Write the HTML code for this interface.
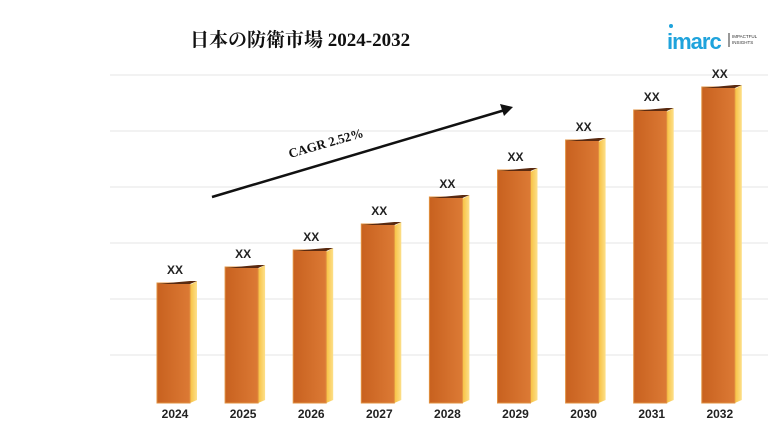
<!DOCTYPE html>
<html><head><meta charset="utf-8"><style>
body{margin:0;background:#fff;width:768px;height:432px;overflow:hidden}
</style></head><body>
<svg width="768" height="432" xmlns="http://www.w3.org/2000/svg" font-family="Liberation Sans, sans-serif">
<defs>
<linearGradient id="f" x1="0" x2="1"><stop offset="0" stop-color="#c8611f"/><stop offset="1" stop-color="#dc7a35"/></linearGradient>
<linearGradient id="s" x1="0" x2="1"><stop offset="0" stop-color="#f7c040"/><stop offset="1" stop-color="#fde08a"/></linearGradient>
</defs>
<text x="190" y="46" font-family="Liberation Serif, Noto Serif CJK SC, serif" font-size="19" font-weight="bold" fill="#111">日本の防衛市場 2024-2032</text>
<g stroke="#e6e6e6" stroke-width="1">
<line x1="110" y1="75" x2="768" y2="75"/><line x1="110" y1="131" x2="768" y2="131"/><line x1="110" y1="187" x2="768" y2="187"/><line x1="110" y1="243" x2="768" y2="243"/><line x1="110" y1="299" x2="768" y2="299"/><line x1="110" y1="355" x2="768" y2="355"/>
</g>
<circle cx="671" cy="26" r="2" fill="#1fa3dc"/>
<text x="667" y="49" font-size="22" fill="#1fa3dc" font-weight="bold" letter-spacing="-1">imarc</text>
<line x1="729" y1="33" x2="729" y2="47" stroke="#333"/>
<text x="732" y="38" font-size="4.5" fill="#333">IMPACTFUL</text>
<text x="732" y="44" font-size="4.5" fill="#333">INSIGHTS</text>
<line x1="212" y1="197" x2="505" y2="110" stroke="#111" stroke-width="2.5"/>
<polygon points="513,107 500,104 504,116" fill="#111"/>
<text x="290" y="158" font-family="Liberation Serif, serif" font-size="13" font-weight="bold" fill="#111" transform="rotate(-16 290 158)">CAGR 2.52%</text>
<g id="bars"></g>
</svg>
<script>
var tops=[283,267,250,224,197,170,140,110,87],g=document.getElementById('bars'),h='';
for(var i=0;i<9;i++){var x=157+i*68.1,t=tops[i],b=403,w=33;
h+='<polygon points="'+(x+w)+','+(t+2)+' '+(x+w+7)+','+(t-2)+' '+(x+w+7)+','+(b-3)+' '+(x+w)+','+b+'" fill="url(#s)"/>';
h+='<rect x="'+x+'" y="'+t+'" width="'+w+'" height="'+(b-t)+'" fill="url(#f)" stroke="#e09040" stroke-width="1"/>';
h+='<polygon points="'+x+','+(t+1)+' '+(x+w)+','+(t-2)+' '+(x+w+7)+','+(t-2)+' '+(x+w)+','+(t+1)+'" fill="#5a2a10"/>';
h+='<text x="'+(x+18)+'" y="'+(t-9)+'" font-size="12" font-weight="bold" text-anchor="middle" fill="#222">XX</text>';
h+='<text x="'+(x+18)+'" y="418" font-size="12" font-weight="bold" text-anchor="middle" fill="#222">'+(2024+i)+'</text>';}
g.innerHTML=h;
</script>
</body></html>
